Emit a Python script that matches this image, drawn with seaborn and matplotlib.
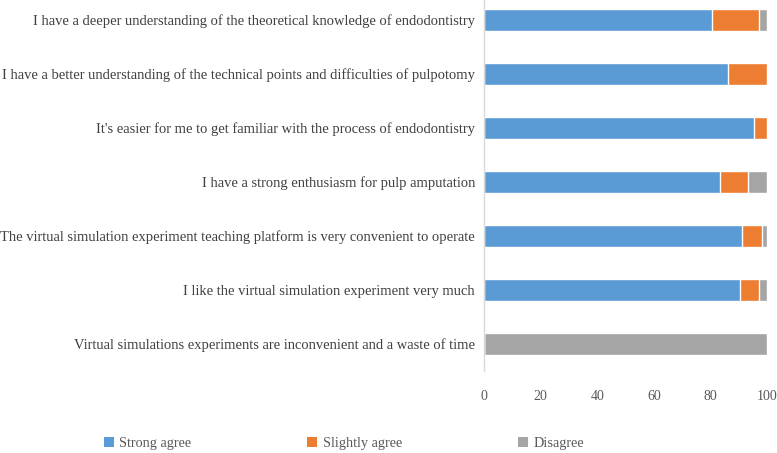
import matplotlib
matplotlib.use("Agg")
import matplotlib.pyplot as plt
import seaborn as sns
import pandas as pd
from matplotlib.patches import Patch

categories = [
    "I have a deeper understanding of the theoretical knowledge of endodontistry",
    "I have a better understanding of the technical points and difficulties of pulpotomy",
    "It's easier for me to get familiar with the process of endodontistry",
    "I have a strong enthusiasm for pulp amputation",
    "The virtual simulation experiment teaching platform is very convenient to operate",
    "I like the virtual simulation experiment very much",
    "Virtual simulations experiments are inconvenient and a waste of time",
]
strong_agree = [80.4, 86.3, 95.3, 83.5, 91.3, 90.5, 0.0]
slightly_agree = [16.8, 13.7, 4.7, 9.7, 7.1, 6.5, 0.0]
disagree = [2.8, 0.0, 0.0, 6.8, 1.6, 3.0, 100.0]
series_names = ["Strong agree", "Slightly agree", "Disagree"]
colors = ["#5B9BD5", "#ED7D31", "#A5A5A5"]
x_ticks = [0, 20, 40, 60, 80, 100]

df = pd.DataFrame({"cat": categories, "s1": strong_agree, "s2": slightly_agree, "s3": disagree})
df["c1"] = df["s1"]
df["c2"] = df["s1"] + df["s2"]
df["c3"] = df["c2"] + df["s3"]

sns.set_style("white")
plt.rcParams["font.family"] = ["Liberation Serif", "DejaVu Serif"]

fig = plt.figure(figsize=(7.77, 4.53), dpi=100)
ax = fig.add_axes([484 / 777, (453 - 371) / 453, (767 - 484) / 777, 371 / 453])

for col, c in zip(["c3", "c2", "c1"], [colors[2], colors[1], colors[0]]):
    sns.barplot(data=df, x=col, y="cat", orient="h", color=c, width=0.39,
                ax=ax, saturation=1, order=categories)

ax.set_xlim(0, 100)
ax.set_ylim(6.5, -0.37)
ax.set_xticks(x_ticks)
ax.set_xticklabels([str(t) for t in x_ticks], fontsize=10, color="#595959")
ax.tick_params(axis="y", labelsize=10.45, labelcolor="#404040", length=0, pad=6.5)
ax.tick_params(axis="x", length=0, pad=14)
ax.set_xlabel("")
ax.set_ylabel("")
for s in ["top", "right", "bottom"]:
    ax.spines[s].set_visible(False)
ax.spines["left"].set_color("#D9D9D9")
ax.spines["left"].set_linewidth(1)

handles = [Patch(facecolor=c, edgecolor="none") for c in colors]
fig.legend(handles, series_names, loc="center", bbox_to_anchor=(0.443, 0.022),
           ncol=3, frameon=False, fontsize=10.3, handlelength=0.7, handleheight=0.7,
           handletextpad=0.4, columnspacing=8.1, labelcolor="#595959", borderpad=0)

fig.savefig("out.png", dpi=100)
